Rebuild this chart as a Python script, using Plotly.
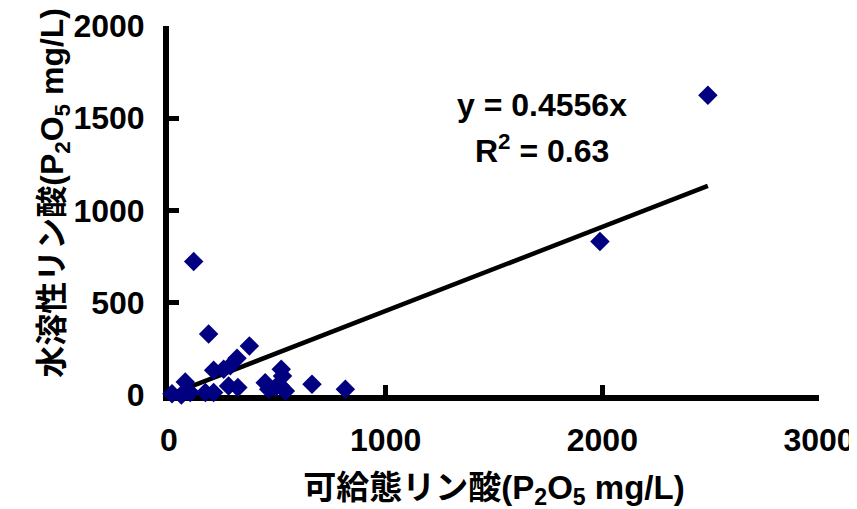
import plotly.graph_objects as go

x_avail = [114, 183, 371, 314, 283, 206, 252, 518, 524, 444, 514, 460, 537, 660, 814,
           75, 275, 318, 14, 57, 98, 168, 206, 491, 1989, 2487]
y_water = [723, 330, 266, 199, 158, 134, 139, 139, 103, 67, 49, 31, 22, 58, 31,
           71, 49, 40, 7, 0, 13, 13, 13, 40, 832, 1625]
slope = 0.4556
r2 = 0.63
x_ticks = [0, 1000, 2000, 3000]
y_ticks = [0, 500, 1000, 1500, 2000]

fit_x = [min(x_avail), max(x_avail)]
fit_y = [slope * v for v in fit_x]

font_main = "Liberation Sans, Noto Sans CJK JP, sans-serif"

fig = go.Figure()
fig.add_trace(go.Scatter(x=fit_x, y=fit_y, mode="lines",
                         line=dict(color="black", width=4.5), showlegend=False,
                         hoverinfo="skip", cliponaxis=False))
fig.add_trace(go.Scatter(x=x_avail, y=y_water, mode="markers",
                         marker=dict(symbol="diamond", size=15, color="#000080"),
                         cliponaxis=False, showlegend=False))

fig.add_annotation(x=1720, y=1573, xref="x", yref="y",
                   text=f"<b>y = {slope}x</b>", showarrow=False,
                   font=dict(family=font_main, size=32, color="black"))
fig.add_annotation(x=1720, y=1333, xref="x", yref="y",
                   text=f"<b>R<sup>2</sup> = {r2}</b>", showarrow=False,
                   font=dict(family=font_main, size=32, color="black"))

# y-axis title placed as a rotated annotation
fig.add_annotation(x=-0.211, y=0.549, xref="paper", yref="paper",
                   text="<b>水溶性リン酸(P<sub>2</sub>O<sub>5</sub> mg/L)</b>",
                   textangle=-90, showarrow=False,
                   font=dict(family=font_main, size=32, color="black"))

fig.update_layout(
    width=857, height=509,
    margin=dict(l=161, r=46, t=18, b=122, autoexpand=False),
    plot_bgcolor="white", paper_bgcolor="white",
    font=dict(family=font_main, color="black"),
    xaxis=dict(range=[0, 3000], tickvals=x_ticks,
               ticktext=[f"<b>{v}</b>" for v in x_ticks],
               showline=True, linecolor="black", linewidth=6,
               ticks="inside", ticklen=10, tickwidth=5, tickcolor="black",
               showgrid=False, zeroline=False, automargin=False,
               ticklabelstandoff=12, layer="below traces",
               tickfont=dict(size=32, family=font_main),
               title=dict(text="<b>可給態リン酸(P<sub>2</sub>O<sub>5</sub> mg/L)</b>",
                          font=dict(size=33, family=font_main), standoff=20)),
    yaxis=dict(range=[0, 2000], tickvals=y_ticks,
               ticktext=[f"<b>{v}</b>" for v in y_ticks],
               showline=True, linecolor="black", linewidth=6,
               ticks="inside", ticklen=10, tickwidth=5, tickcolor="black",
               showgrid=False, zeroline=False, automargin=False,
               ticklabelstandoff=12, layer="below traces",
               tickfont=dict(size=32, family=font_main)),
)

fig.write_html("out.html")
